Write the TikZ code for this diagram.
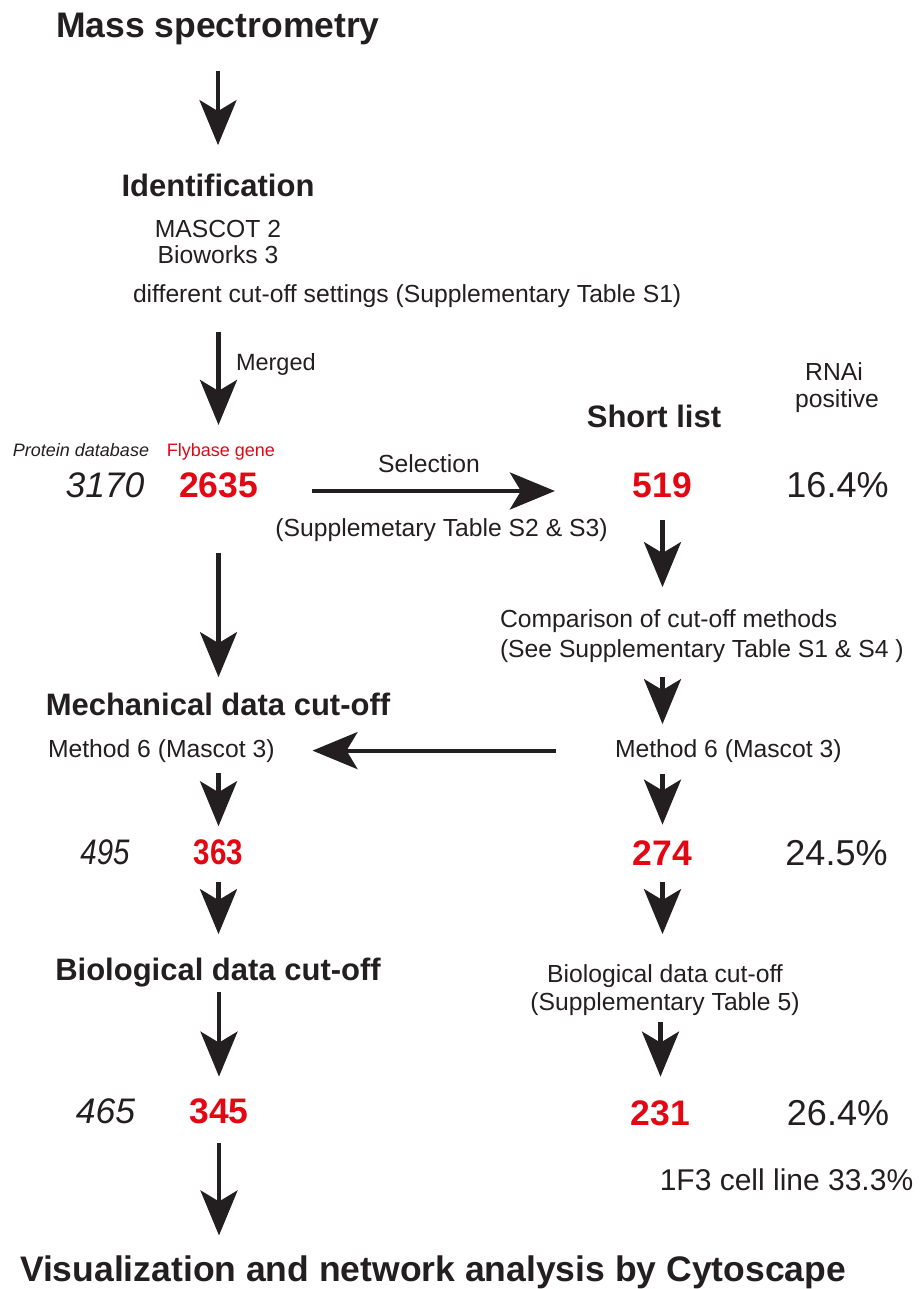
\documentclass[tikz,border=0pt]{standalone}
\usepackage{fontspec}
\setmainfont{Liberation Sans}
\usepackage{graphicx}
\usepackage{tikz}
\usetikzlibrary{arrows.meta}
\definecolor{ink}{HTML}{231F20}
\definecolor{flyred}{HTML}{E30613}

\tikzset{
    every node/.style={inner sep=0pt, outer sep=0pt, anchor=base, text=ink},
    title/.style={font=\fontsize{35.5}{40}\selectfont\bfseries},
    head/.style={font=\fontsize{31}{36}\selectfont\bfseries},
    note/.style={font=\fontsize{24.7}{28}\selectfont},
    count/.style={font=\fontsize{35.5}{40}\selectfont\bfseries, text=flyred},
    total/.style={font=\fontsize{35.5}{40}\selectfont\itshape},
    pct/.style={font=\fontsize{36}{40}\selectfont},
    tag/.style={font=\fontsize{18}{21}\selectfont},
    flow/.style={draw=ink, line width=4.2pt, -{Stealth[length=45pt, width=37pt, inset=11pt]}},
}

\begin{document}
\begin{tikzpicture}[x=1pt, y=-1pt]
    \useasboundingbox (0,0) rectangle (919,1289);

    % left column
    \node[title] (ms) at (218, 38) {Mass spectrometry};
    \node[head] (ident) at (218, 197) {Identification};
    \node[note] (mascot) at (218, 237) {MASCOT 2};
    \node[note] (bioworks) at (218, 263) {Bioworks 3};
    \node[note, anchor=base west] (cutset) at (133, 302) {different cut-off settings (Supplementary Table S1)};
    \node[note, font=\fontsize{23.5}{28}\selectfont, anchor=base west] (merged) at (236, 370) {Merged};

    \node[tag, font=\fontsize{18}{21}\selectfont\itshape] (protdb) at (81, 456) {Protein database};
    \node[tag, text=flyred] (flygene) at (221, 456) {Flybase gene};
    \node[total] (n3170) at (105, 497) {3170};
    \node[count] (n2635) at (218.5, 497) {2635};

    \node[head] (mech) at (218, 715) {Mechanical data cut-off};
    \node[note, anchor=base west] (methL) at (48, 757) {Method 6 (Mascot 3)};
    \node[total] (n495) at (105, 864) {\scalebox{0.83}[1]{495}};
    \node[count] (n363) at (218.5, 864) {\scalebox{0.83}[1]{363}};
    \node[head] (bioL) at (218, 980) {Biological data cut-off};
    \node[total] (n465) at (105.5, 1123) {465};
    \node[count] (n345) at (219, 1123) {345};
    \node[title] (viz) at (433, 1281) {Visualization and network analysis by Cytoscape};

    % selection
    \node[note] (sel) at (429, 472) {Selection};
    \node[note] (supp23) at (441.5, 536) {(Supplemetary Table S2 \& S3)};

    % right column
    \node[head] (short) at (654, 427) {Short list};
    \node[note] (rnai) at (834, 380) {RNAi};
    \node[note] (positive) at (837, 407) {positive};
    \node[count] (n519) at (662.5, 497) {519};
    \node[pct] (p164) at (837.5, 497) {16.4\%};
    \node[note, anchor=base west] (compare) at (500, 627) {Comparison of cut-off methods};
    \node[note, anchor=base west] (seesupp) at (500, 657) {(See Supplementary Table S1 \& S4 )};
    \node[note, anchor=base west] (methR) at (615, 757) {Method 6 (Mascot 3)};
    \node[count] (n274) at (662.5, 865) {274};
    \node[pct] (p245) at (836.5, 865) {24.5\%};
    \node[note] (bioR) at (665, 982) {Biological data cut-off};
    \node[note] (bioRsupp) at (665, 1010) {(Supplementary Table 5)};
    \node[count] (n231) at (660.5, 1125) {231};
    \node[pct] (p264) at (838, 1125) {26.4\%};
    \node[pct, font=\fontsize{30}{34}\selectfont] (cellline) at (786.5, 1190) {1F3 cell line 33.3\%};

    % arrows
    \draw[flow, shorten <=25.5pt, shorten >=29.4pt] (ms.south) -- (ident.north);
    \draw[flow, shorten <=24.8pt, shorten >=18pt] (cutset.south -| n2635) -- (flygene.north -| n2635);
    \draw[flow, shorten <=54pt, shorten >=78pt] ([yshift=6pt]n2635.base east) -- ([yshift=6pt]n519.base west);
    \draw[flow, shorten <=23pt, shorten >=22pt] (n519.south) -- (compare.north -| n519);
    \draw[flow, shorten <=56pt, shorten >=15.4pt] (n2635.south) -- (mech.north -| n2635);
    \draw[flow, shorten <=14.8pt, shorten >=15pt] (seesupp.south -| n519) -- (methR.north -| n519);
    \draw[flow, shorten <=59pt, shorten >=38pt] (methR.west) -- (methL.east);
    \draw[flow, shorten <=10.8pt, shorten >=13pt] (methL.south -| n363) -- (n363.north);
    \draw[flow, shorten <=11.8pt, shorten >=15.6pt] (methR.south -| n274) -- (n274.north);
    \draw[flow, shorten <=18pt, shorten >=23.4pt] (n363.south) -- (bioL.north -| n363);
    \draw[flow, shorten <=17pt, shorten >=30pt] (n274.south) -- (bioR.north -| n274);
    \draw[flow, shorten <=5.5pt, shorten >=21.6pt] (bioL.south -| n345) -- (n345.north);
    \draw[flow, shorten <=6.8pt, shorten >=23.6pt] (bioRsupp.south -| n231) -- (n231.north);
    \draw[flow, shorten <=20pt, shorten >=19.8pt] (n345.south) -- (viz.north -| n345);
\end{tikzpicture}
\end{document}
